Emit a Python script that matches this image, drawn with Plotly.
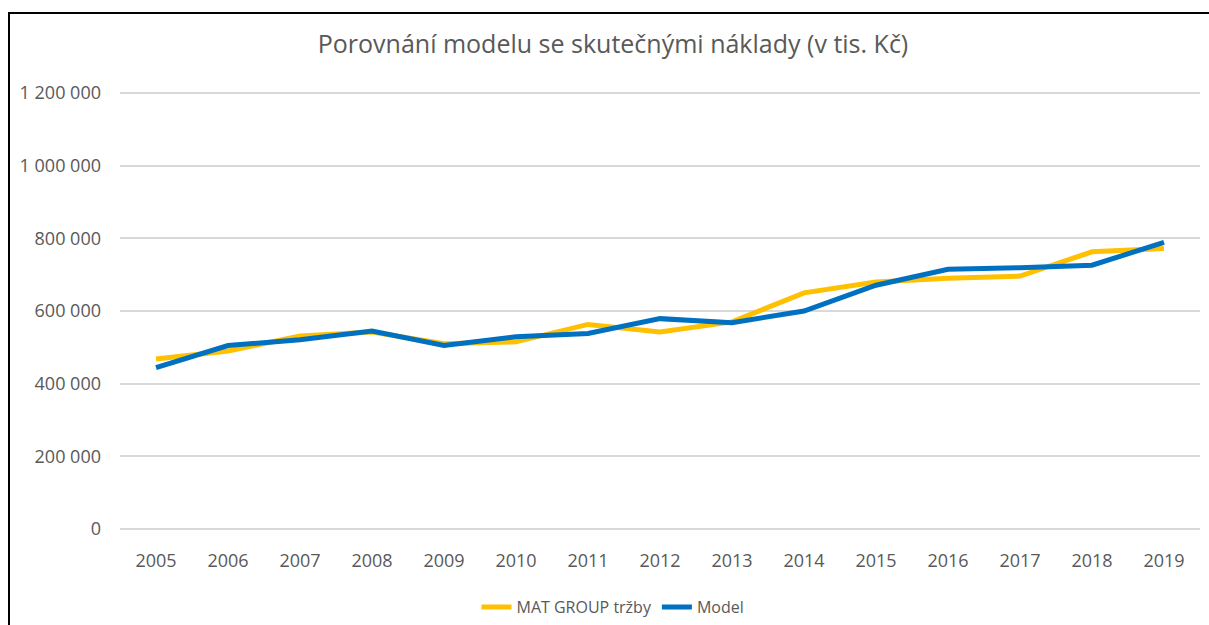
import plotly.graph_objects as go

# Yearly values in thousands of CZK
years = ["2005", "2006", "2007", "2008", "2009", "2010", "2011", "2012",
         "2013", "2014", "2015", "2016", "2017", "2018", "2019"]
trzby = [468000, 490000, 531000, 542000, 510000, 515000, 563000, 542000,
         570000, 650000, 680000, 690000, 696000, 763000, 772000]
model = [444000, 505000, 521000, 545000, 505000, 529000, 538000, 579000,
         568000, 600000, 671000, 715000, 719000, 726000, 789000]
y_ticks = [0, 200000, 400000, 600000, 800000, 1000000, 1200000]

W, H = 1209, 625
# plot area padded by 2 px top and bottom so the edge gridlines stay visible
ML, MR, MT, MB = 120, 9, 91, 94
PW, PH = W - ML - MR, H - MT - MB
Y_PAD = 1200000 / 436 * 2

def px_x(p):
    return (p - ML) / PW

def px_y(p):
    return (H - MB - p) / PH

TEXT = "#595959"
FONT = "Open Sans"

fig = go.Figure()
fig.add_trace(go.Scatter(x=years, y=trzby, mode="lines", name="MAT GROUP tržby",
                         line=dict(color="#FFC000", width=5)))
fig.add_trace(go.Scatter(x=years, y=model, mode="lines", name="Model",
                         line=dict(color="#0070C0", width=5)))

fig.update_layout(
    width=W, height=H,
    margin=dict(l=ML, r=MR, t=MT, b=MB, pad=0, autoexpand=False),
    paper_bgcolor="white", plot_bgcolor="white",
    separators=", ",
    font=dict(family=FONT, color=TEXT, size=18),
    title=dict(text="Porovnání modelu se skutečnými náklady (v tis. Kč)",
               x=613 / W, xref="container", xanchor="center",
               y=1 - 44 / H, yref="container", yanchor="middle",
               font=dict(family=FONT, size=25, color=TEXT)),
    showlegend=True,
    legend=dict(orientation="h", x=px_x(613), xanchor="center",
                y=px_y(607), yanchor="middle",
                font=dict(family=FONT, size=16, color=TEXT),
                bgcolor="rgba(0,0,0,0)"),
    xaxis=dict(type="category", range=[-0.5, len(years) - 0.5],
               showgrid=False, zeroline=False, showline=False,
               ticks="", ticklabelstandoff=17,
               tickfont=dict(family=FONT, size=18, color=TEXT)),
    yaxis=dict(range=[-Y_PAD, 1200000 + Y_PAD], tickvals=y_ticks, tickformat=",d",
               showgrid=True, gridcolor="#d9d9d9", gridwidth=1.5,
               zeroline=False, showline=False, ticks="",
               ticklabelstandoff=18,
               tickfont=dict(family=FONT, size=18, color=TEXT)),
    shapes=[
        dict(type="line", xref="paper", yref="paper",
             x0=px_x(9), x1=px_x(9), y0=px_y(H + 5), y1=px_y(12),
             line=dict(color="black", width=2)),
        dict(type="line", xref="paper", yref="paper",
             x0=px_x(8), x1=px_x(W + 5), y0=px_y(13), y1=px_y(13),
             line=dict(color="black", width=2)),
    ],
)

fig.write_html("out.html")
